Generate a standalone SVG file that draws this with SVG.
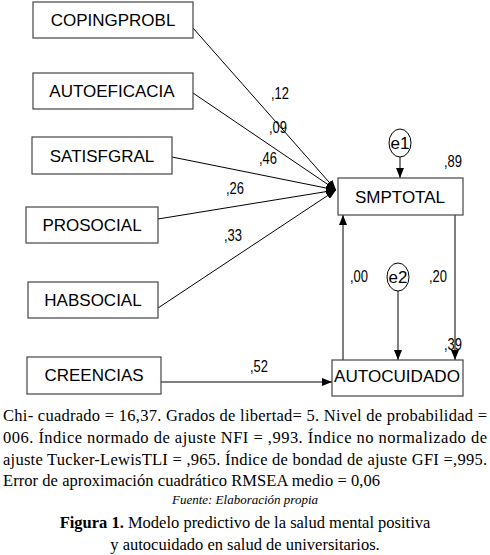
<svg xmlns="http://www.w3.org/2000/svg" width="490" height="555" viewBox="0 0 490 555">
<defs>
<marker id="ah" viewBox="0 0 10 8" refX="10" refY="4" markerWidth="10" markerHeight="8" markerUnits="userSpaceOnUse" orient="auto">
<path d="M0,0 L10,4 L0,8 Z" fill="#000"/>
</marker>
<style>
.box{fill:#fff;stroke:#444;stroke-width:1.2}
.lbl{font-family:"Liberation Sans",Arial,sans-serif;font-size:17px;fill:#000;text-anchor:middle}
.coef{font-family:"Liberation Sans",Arial,sans-serif;font-size:16px;fill:#000}
.edge{stroke:#000;stroke-width:1;fill:none;marker-end:url(#ah)}
.err{fill:#fff;stroke:#000;stroke-width:1}
.cap{font-family:"Liberation Serif","Times New Roman",serif;font-size:16.5px;fill:#000}
.src{font-family:"Liberation Serif","Times New Roman",serif;font-size:13px;font-style:italic;fill:#000;text-anchor:middle}
</style>
</defs>
<rect width="490" height="555" fill="#fff"/>
<g id="connectors">
<line class="edge" x1="193" y1="28" x2="336" y2="190"/>
<line class="edge" x1="193" y1="93" x2="336" y2="190"/>
<line class="edge" x1="172" y1="157" x2="336" y2="190"/>
<line class="edge" x1="158" y1="219" x2="336" y2="190"/>
<line class="edge" x1="158" y1="308" x2="336" y2="190"/>
<line class="edge" x1="400" y1="157" x2="400" y2="178"/>
<line class="edge" x1="455" y1="215" x2="455" y2="360"/>
<line class="edge" x1="343" y1="360" x2="343" y2="215"/>
<line class="edge" x1="398" y1="291" x2="398" y2="360"/>
<line class="edge" x1="161" y1="382" x2="332" y2="382"/>
</g>
<g id="coefs" class="coef">
<text x="271" y="99" textLength="18" lengthAdjust="spacingAndGlyphs">,12</text>
<text x="269" y="133" textLength="18" lengthAdjust="spacingAndGlyphs">,09</text>
<text x="259" y="164" textLength="18" lengthAdjust="spacingAndGlyphs">,46</text>
<text x="226" y="194" textLength="18" lengthAdjust="spacingAndGlyphs">,26</text>
<text x="224" y="241" textLength="18" lengthAdjust="spacingAndGlyphs">,33</text>
<text x="444" y="167" textLength="18" lengthAdjust="spacingAndGlyphs">,89</text>
<text x="350" y="282" textLength="18" lengthAdjust="spacingAndGlyphs">,00</text>
<text x="429" y="282" textLength="18" lengthAdjust="spacingAndGlyphs">,20</text>
<text x="444" y="350" textLength="18" lengthAdjust="spacingAndGlyphs">,39</text>
<text x="250" y="372" textLength="18" lengthAdjust="spacingAndGlyphs">,52</text>
</g>
<g id="COPINGPROBL"><rect class="box" x="33" y="2" width="160" height="36"/><text class="lbl" x="113" y="26">COPINGPROBL</text></g>
<g id="AUTOEFICACIA"><rect class="box" x="33" y="73" width="160" height="36"/><text class="lbl" x="112" y="97">AUTOEFICACIA</text></g>
<g id="SATISFGRAL"><rect class="box" x="32" y="137" width="140" height="37"/><text class="lbl" x="102" y="162">SATISFGRAL</text></g>
<g id="PROSOCIAL"><rect class="box" x="26" y="207" width="132" height="36"/><text class="lbl" x="92" y="231">PROSOCIAL</text></g>
<g id="HABSOCIAL"><rect class="box" x="28" y="282" width="130" height="36"/><text class="lbl" x="93" y="306">HABSOCIAL</text></g>
<g id="CREENCIAS"><rect class="box" x="27" y="357" width="134" height="37"/><text class="lbl" x="94" y="381">CREENCIAS</text></g>
<g id="SMPTOTAL"><rect class="box" x="338" y="178" width="125" height="37"/><text class="lbl" x="400" y="203">SMPTOTAL</text></g>
<g id="AUTOCUIDADO"><rect class="box" x="332" y="360" width="131" height="36"/><text class="lbl" x="397" y="382" textLength="126" lengthAdjust="spacingAndGlyphs">AUTOCUIDADO</text></g>
<g id="e1"><ellipse class="err" cx="400" cy="143" rx="11" ry="14"/><text class="lbl" x="400" y="149">e1</text></g>
<g id="e2"><ellipse class="err" cx="398" cy="277" rx="11" ry="14"/><text class="lbl" x="398" y="283">e2</text></g>
<g id="caption">
<text class="cap" x="3" y="421" textLength="484" lengthAdjust="spacing">Chi- cuadrado = 16,37. Grados de libertad= 5. Nivel de probabilidad =</text>
<text class="cap" x="3" y="443" textLength="484" lengthAdjust="spacing">006. Índice normado de ajuste NFI = ,993. Índice no normalizado de</text>
<text class="cap" x="3" y="465" textLength="484" lengthAdjust="spacing">ajuste Tucker-LewisTLI = ,965. Índice de bondad de ajuste GFI =,995.</text>
<text class="cap" x="3" y="486" textLength="377" lengthAdjust="spacing">Error de aproximación cuadrático RMSEA medio = 0,06</text>
<text class="src" x="245" y="504">Fuente: Elaboración propia</text>
<text class="cap" x="245" y="528" text-anchor="middle"><tspan font-weight="bold">Figura 1.</tspan> Modelo predictivo de la salud mental positiva</text>
<text class="cap" x="245" y="550" text-anchor="middle">y autocuidado en salud de universitarios.</text>
</g>
</svg>
